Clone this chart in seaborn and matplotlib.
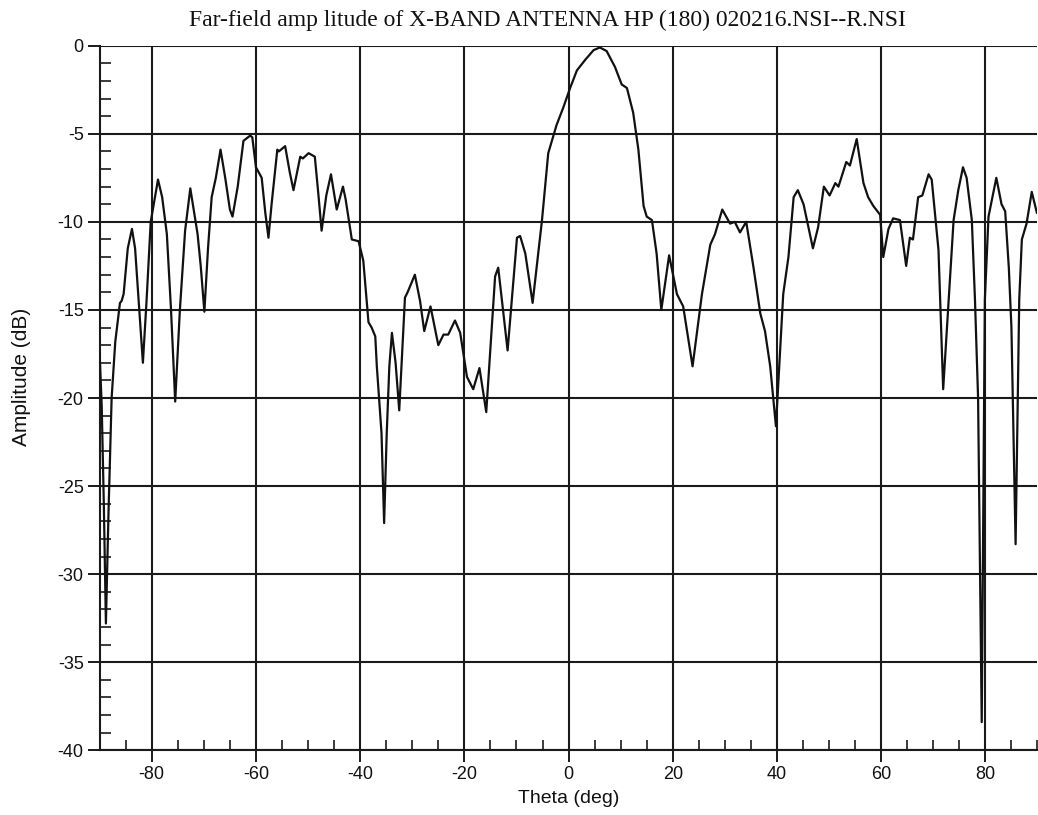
import matplotlib
matplotlib.use("Agg")
import matplotlib.pyplot as plt
from matplotlib.ticker import MultipleLocator
import pandas as pd
import seaborn as sns

# Far-field cut: theta (deg) and normalised amplitude (dB)
theta_deg = [
    -90.0, -89.6, -89.2, -88.8, -88.3, -87.7, -87.0, -86.1, -85.8, -85.4,
    -84.6, -83.8, -83.2, -82.4, -81.7, -81.0, -80.2, -78.8, -78.0, -77.1,
    -76.3, -75.5, -74.6, -73.6, -72.6, -71.2, -70.6, -69.9, -69.2, -68.5,
    -67.7, -66.8, -65.9, -65.0, -64.5, -63.5, -62.4, -61.1, -60.7, -60.0,
    -58.9, -58.2, -57.6, -57.0, -55.9, -55.6, -54.4, -53.5, -52.8, -51.5,
    -51.0, -49.9, -48.7, -48.0, -47.4, -46.5, -45.6, -44.5, -43.3, -42.8,
    -41.6, -40.3, -39.4, -38.4, -37.8, -37.1, -36.8, -35.9, -35.4, -34.9,
    -34.4, -33.9, -33.2, -32.5, -31.4, -30.9, -29.5, -28.5, -27.7, -26.5,
    -25.0, -24.0, -23.1, -21.8, -20.8, -19.5, -18.3, -17.1, -15.8, -14.1,
    -13.5, -11.7, -9.9, -9.3, -8.3, -6.9, -5.1, -3.9, -2.3, -1.0,
    0.3, 1.6, 3.2, 4.8, 6.0, 7.3, 8.9, 10.2, 11.2, 12.4,
    13.4, 14.4, 15.0, 16.0, 16.9, 17.8, 19.3, 20.8, 22.0, 23.8,
    25.6, 27.2, 28.1, 29.5, 31.0, 31.9, 32.9, 34.1, 35.5, 36.8,
    37.7, 38.7, 39.8, 41.2, 42.2, 43.2, 44.0, 45.1, 46.9, 47.9,
    49.0, 50.1, 51.2, 51.8, 53.3, 54.0, 55.3, 56.6, 57.5, 58.5,
    59.8, 60.4, 61.4, 62.3, 63.6, 64.8, 65.5, 66.1, 67.1, 67.9,
    69.1, 69.7, 71.0, 71.9, 73.9, 74.8, 75.7, 76.4, 77.4, 78.0,
    78.6, 79.3, 79.9, 80.6, 82.1, 83.1, 83.8, 84.5, 85.0, 85.8,
    86.5, 87.0, 87.9, 88.9, 89.9,
]
amplitude_db = [
    -17.5, -20.5, -26.0, -32.8, -26.5, -20.0, -16.8, -14.6, -14.5, -14.1,
    -11.5, -10.4, -11.5, -15.0, -18.0, -14.5, -10.0, -7.6, -8.6, -10.7,
    -15.0, -20.2, -15.0, -10.5, -8.1, -10.7, -12.5, -15.1, -11.5, -8.6,
    -7.5, -5.9, -7.5, -9.3, -9.7, -8.0, -5.4, -5.1, -5.2, -6.9,
    -7.5, -9.5, -10.9, -9.0, -5.9, -6.0, -5.7, -7.2, -8.2, -6.3,
    -6.4, -6.1, -6.3, -8.5, -10.5, -8.5, -7.3, -9.3, -8.0, -8.7,
    -11.0, -11.1, -12.2, -15.7, -16.0, -16.5, -18.2, -22.0, -27.1, -22.0,
    -18.2, -16.3, -18.0, -20.7, -14.3, -14.0, -13.0, -14.5, -16.2, -14.8,
    -17.0, -16.4, -16.4, -15.6, -16.3, -18.8, -19.5, -18.3, -20.8, -13.1,
    -12.6, -17.3, -10.9, -10.8, -11.8, -14.6, -9.9, -6.1, -4.5, -3.5,
    -2.4, -1.4, -0.8, -0.25, -0.1, -0.3, -1.2, -2.2, -2.4, -3.8,
    -5.9, -9.1, -9.7, -9.9, -11.8, -15.0, -11.9, -14.1, -14.8, -18.2,
    -14.1, -11.3, -10.7, -9.3, -10.1, -10.0, -10.6, -10.0, -12.6, -15.2,
    -16.2, -18.2, -21.6, -14.1, -12.0, -8.6, -8.2, -9.0, -11.5, -10.3,
    -8.0, -8.5, -7.8, -8.0, -6.6, -6.8, -5.3, -7.8, -8.6, -9.1,
    -9.6, -12.0, -10.4, -9.8, -9.9, -12.5, -10.9, -11.0, -8.6, -8.5,
    -7.3, -7.6, -11.6, -19.5, -9.9, -8.2, -6.9, -7.5, -9.9, -14.4,
    -20.0, -38.4, -14.4, -9.7, -7.5, -9.0, -9.4, -12.6, -16.0, -28.3,
    -14.4, -11.0, -10.1, -8.3, -9.5,
]

x_ticks = list(range(-80, 81, 20))
y_ticks = list(range(-40, 1, 5))

sns.set_theme(style="white")
plt.rcParams["font.family"] = ["Liberation Sans", "DejaVu Sans"]
plt.rcParams["axes.unicode_minus"] = False

df = pd.DataFrame({"theta": theta_deg, "amp": amplitude_db})

fig = plt.figure(figsize=(10.38, 8.15), dpi=100)
ax = fig.add_axes([0.0960, 0.0794, 0.9035, 0.8645])

sns.lineplot(data=df, x="theta", y="amp", ax=ax, color="#111111",
             linewidth=1.6, sort=False, estimator=None, zorder=3)

ax.set_xlim(-90, 90)
ax.set_ylim(-40, 0)
ax.set_xticks(x_ticks)
ax.set_yticks(y_ticks)
ax.xaxis.set_minor_locator(MultipleLocator(5))
ax.yaxis.set_minor_locator(MultipleLocator(1))

ax.grid(which="major", color="#1a1a1a", linewidth=1.5)
ax.set_axisbelow(True)

for side in ("top", "right"):
    ax.spines[side].set_visible(False)
for side in ("left", "bottom"):
    ax.spines[side].set_color("#1a1a1a")
    ax.spines[side].set_linewidth(1.5)

ax.tick_params(which="both", bottom=True, left=True, top=False, right=False)
ax.tick_params(which="major", direction="out", length=8.5, width=1.4,
               color="#1a1a1a", labelsize=13, labelcolor="#111111", pad=3)
ax.tick_params(which="minor", direction="in", length=8, width=1.2,
               color="#1a1a1a")
ax.tick_params(axis="x", which="minor", length=7)

ax.set_xlabel("Theta (deg)", fontsize=14, color="#111111")
ax.set_ylabel("Amplitude (dB)", fontsize=15, color="#111111")
ax.xaxis.set_label_coords(0.5, -0.068)
ax.xaxis.label.set_va("center")
ax.yaxis.set_label_coords(-0.083, 0.53)
ax.yaxis.label.set_va("center")

fig.text(0.527, 0.975,
         "Far-field amp litude of X-BAND ANTENNA HP (180) 020216.NSI--R.NSI",
         ha="center", va="center", fontsize=17, color="#111111",
         family=["Liberation Serif", "DejaVu Serif"])

fig.savefig("out.png", dpi=100, facecolor="white")
